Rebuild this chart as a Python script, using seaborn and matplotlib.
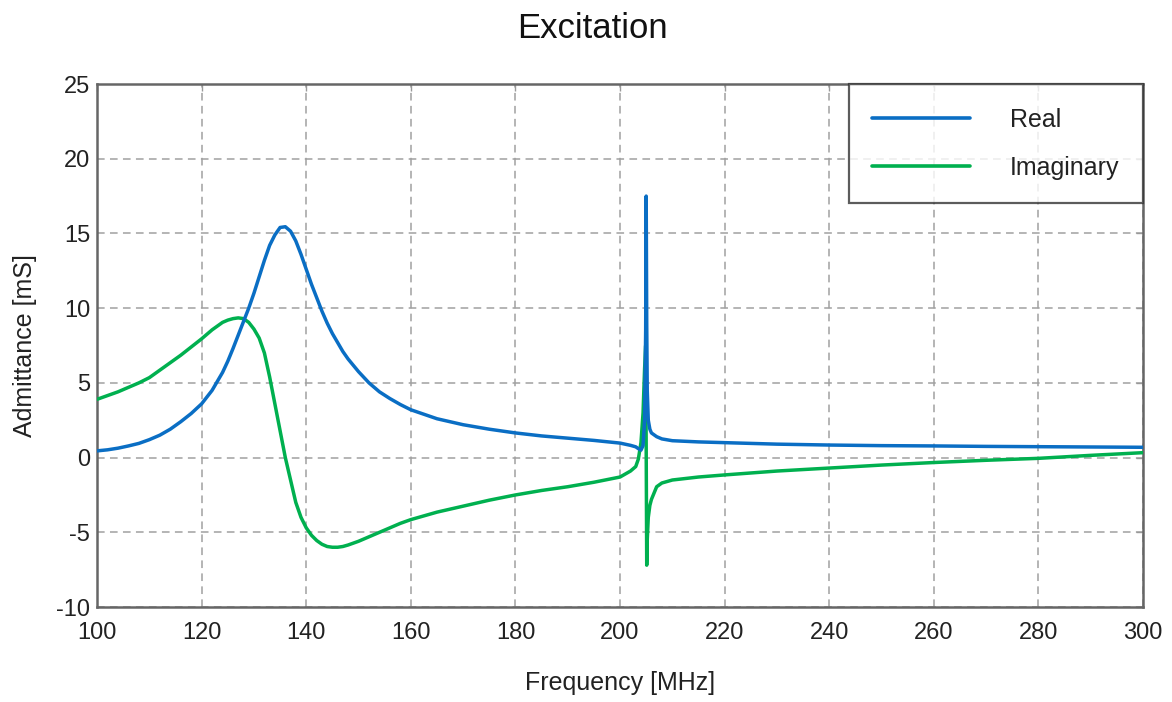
import pandas as pd
import seaborn as sns
import matplotlib.pyplot as plt

# Admittance sweep
freq_mhz = [100, 102, 104, 106, 108, 110, 112, 114, 116, 118, 120, 122, 124,
            125, 126, 127, 128, 129, 130, 131, 132, 133, 134, 135, 136, 137, 138, 139,
            140, 141, 142, 143, 144, 145, 146, 147,
            148, 150, 152, 154, 156, 158, 160,
            165, 170, 175, 180, 185, 190, 195, 200,
            202, 203, 203.5, 204, 204.4, 204.7, 204.9, 205.0, 205.1, 205.2, 205.4, 205.7,
            206, 207, 208, 210,
            215, 220, 230, 240, 250, 260, 270, 280, 290, 300]
real_ms = [0.45, 0.52, 0.63, 0.78, 0.95, 1.2, 1.5, 1.9, 2.4, 2.95, 3.6, 4.5, 5.7,
           6.45, 7.3, 8.2, 9.1, 10.0, 11.0, 12.1, 13.2, 14.2, 14.9, 15.4, 15.45, 15.15, 14.5, 13.6,
           12.6, 11.6, 10.7, 9.8, 9.0, 8.3, 7.7, 7.1,
           6.6, 5.75, 5.0, 4.4, 3.95, 3.55, 3.2,
           2.6, 2.2, 1.9, 1.65, 1.45, 1.3, 1.15, 0.97,
           0.82, 0.72, 0.6, 0.5, 0.8, 2.5, 8.5, 17.5, 9.0, 4.5, 2.5, 1.9,
           1.65, 1.4, 1.25, 1.13,
           1.05, 1.0, 0.9, 0.84, 0.8, 0.78, 0.75, 0.73, 0.71, 0.69]
imag_ms = [3.9, 4.15, 4.4, 4.7, 5.0, 5.35, 5.85, 6.35, 6.85, 7.4, 7.95, 8.55, 9.05,
           9.2, 9.3, 9.35, 9.3, 9.05, 8.6, 8.0, 7.0, 5.4, 3.6, 1.8, 0.0, -1.5, -3.0, -4.0,
           -4.7, -5.2, -5.55, -5.8, -5.95, -6.0, -6.0, -5.95,
           -5.85, -5.6, -5.3, -5.0, -4.7, -4.4, -4.15,
           -3.65, -3.25, -2.85, -2.5, -2.2, -1.95, -1.65, -1.3,
           -0.9, -0.6, -0.1, 1.0, 3.0, 6.0, 7.5, 0.5, -7.2, -5.5, -4.0, -3.2,
           -2.8, -1.95, -1.7, -1.5,
           -1.3, -1.16, -0.9, -0.7, -0.5, -0.33, -0.18, -0.05, 0.15, 0.33]

series_names = ["Real", "Imaginary"]
colors = ["#0A6EC4", "#00B04F"]

df = pd.concat([
    pd.DataFrame({"freq": freq_mhz, "value": real_ms, "part": "Real"}),
    pd.DataFrame({"freq": freq_mhz, "value": imag_ms, "part": "Imaginary"}),
])

sns.set_style("white")
plt.rcParams["font.family"] = ["Liberation Sans", "DejaVu Sans"]
plt.rcParams["axes.unicode_minus"] = False

fig = plt.figure(figsize=(11.72, 7.02), dpi=100)
ax = fig.add_axes([0.0828, 0.1353, 0.8925, 0.745])

sns.lineplot(data=df, x="freq", y="value", hue="part", hue_order=series_names,
             palette=colors, sort=False, estimator=None, ax=ax)
# real part sits on top of the imaginary one, as in the original
ax.lines[0].set_zorder(4)
ax.lines[1].set_zorder(3)
for ln in ax.lines[:2]:
    ln.set_linewidth(2.5)

ax.set_xlim(100, 300)
ax.set_ylim(-10, 25)
ax.set_xticks(range(100, 301, 20))
ax.set_yticks(range(-10, 26, 5))
ax.grid(True, color="#a0a0a0", linestyle=(0, (5, 3.5)), linewidth=1.1)
for s in ax.spines.values():
    s.set_color("#666666")
    s.set_linewidth(1.8)
ax.tick_params(direction="in", top=True, right=True, length=5, width=1,
               color="#999999", labelsize=17, colors="#222222")
ax.tick_params(axis="x", pad=11)
ax.tick_params(axis="y", pad=5)

ax.set_title("Excitation", fontsize=25, pad=33, color="#111111", x=0.474)
ax.set_xlabel("Frequency [MHz]", fontsize=18, labelpad=19, color="#222222")
ax.set_ylabel("Admittance [mS]", fontsize=18, labelpad=14, color="#222222")

leg = ax.legend(loc="upper right", borderaxespad=0, fancybox=False, frameon=True,
                handlelength=3.9, handletextpad=1.6, borderpad=0.95, labelspacing=0.95,
                fontsize=18)
leg.get_frame().set_edgecolor("#333333")
leg.get_frame().set_linewidth(1.6)
for t in leg.get_texts():
    t.set_color("#222222")
for line in leg.get_lines():
    line.set_linewidth(2.6)

fig.savefig("out.png", dpi=100)
